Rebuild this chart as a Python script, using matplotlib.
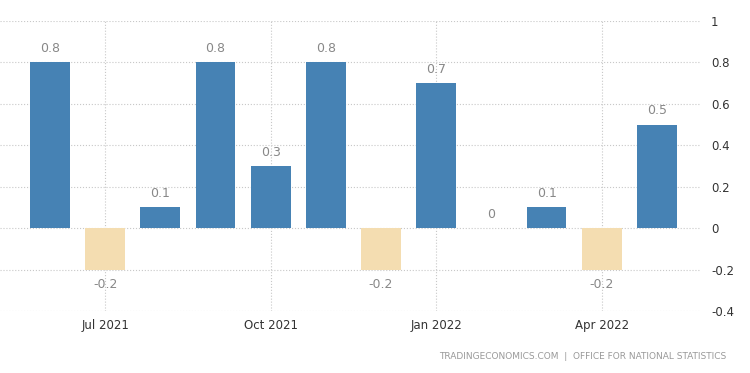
import matplotlib
matplotlib.use('Agg')
import matplotlib.pyplot as plt
import numpy as np

months = ['Jun 2021', 'Jul 2021', 'Aug 2021', 'Sep 2021', 'Oct 2021', 'Nov 2021',
          'Dec 2021', 'Jan 2022', 'Feb 2022', 'Mar 2022', 'Apr 2022', 'May 2022']
values = [0.8, -0.2, 0.1, 0.8, 0.3, 0.8, -0.2, 0.7, 0.0, 0.1, -0.2, 0.5]
tick_months = ['Jul 2021', 'Oct 2021', 'Jan 2022', 'Apr 2022']
y_ticks = [1, 0.8, 0.6, 0.4, 0.2, 0, -0.2, -0.4]

BLUE = '#4682b4'
TAN = '#f4ddb1'

fig = plt.figure(figsize=(7.5, 3.73), dpi=100)
ax = fig.add_axes([0.0, 0.1662, 0.9333, 0.7775])

x = np.arange(len(months))
colors = [BLUE if v >= 0 else TAN for v in values]
ax.bar(x, values, width=0.72, color=colors, zorder=3)

for xi, v in zip(x, values):
    if v >= 0:
        ax.annotate(f'{v:g}', (xi, v), xytext=(0, 10), textcoords='offset points',
                    ha='center', va='center', color='#888888', fontsize=9)
    else:
        ax.annotate(f'{v:g}', (xi, v), xytext=(0, -11), textcoords='offset points',
                    ha='center', va='center', color='#888888', fontsize=9)

ax.set_xlim(-0.906, 11.78)
ax.set_ylim(-0.4, 1.0)

tick_pos = [months.index(m) for m in tick_months]
ax.set_xticks(tick_pos)
ax.set_xticklabels(tick_months, fontsize=8.5, color='#333333')
ax.set_yticks(y_ticks)
ax.set_yticklabels([f'{t:g}' for t in y_ticks], fontsize=8.5, color='#333333')
ax.yaxis.tick_right()
ax.tick_params(axis='both', length=0)
ax.tick_params(axis='y', pad=8)
ax.tick_params(axis='x', pad=6)

ax.grid(True, linestyle=':', color='#c8c8c8', linewidth=0.8, zorder=0)
for s in ax.spines.values():
    s.set_visible(False)

fig.text(0.969, 0.045, 'TRADINGECONOMICS.COM  |  OFFICE FOR NATIONAL STATISTICS',
         ha='right', va='center', fontsize=6.5, color='#999999')

fig.savefig('out.png', dpi=100)
